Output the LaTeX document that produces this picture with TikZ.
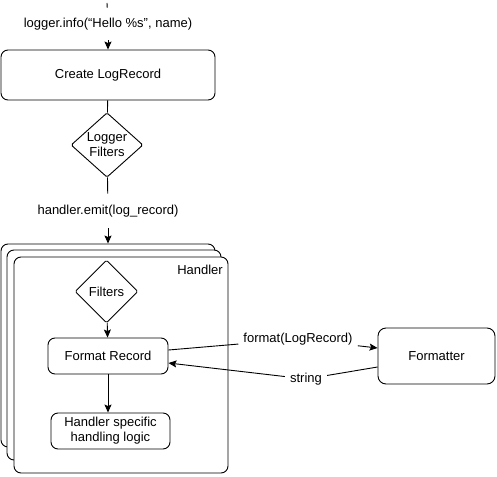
\documentclass[tikz,border=0pt]{standalone}
\usepackage{fontspec}
\setmainfont{Liberation Sans}
\usetikzlibrary{shapes.geometric,arrows.meta}
\begin{document}
\begin{tikzpicture}[x=1pt,y=1pt,
  every node/.style={font=\fontsize{13}{15}\selectfont},
  box/.style={draw,line width=0.9pt,rounded corners=7pt,fill=white,inner sep=0pt,align=center},
  dia/.style={draw,line width=0.9pt,shape=diamond,inner sep=0pt,align=center,rounded corners=1.5pt,fill=white},
  lbl/.style={inner xsep=4pt,inner ysep=2pt},
  conn/.style={line width=0.9pt},
  arr/.style={line width=0.9pt,-{Stealth[length=8pt,width=7pt,inset=1.5pt]}}
]
\useasboundingbox (0,0) rectangle (497,-476);
% top flow
\coordinate (top) at (107,-3);
\node[lbl,inner ysep=10pt] (lab0) at (108,-24) {logger.info(“Hello \%s”, name)};
\node[box,minimum width=214pt,minimum height=50pt] (clr) at (108,-75) {Create LogRecord};
\node[dia,minimum width=72pt,minimum height=64pt] (lf) at (107,-145) {Logger\\Filters};
\node[lbl,inner ysep=11pt] (lab1) at (108,-211) {handler.emit(log\_record)};
% handler stack
\node[box,minimum width=214pt,minimum height=203pt] (h1) at (108,-345.5) {};
\node[box,minimum width=214pt,minimum height=210pt] (h2) at (114,-355) {};
\node[box,minimum width=214pt,minimum height=216pt] (h3) at (121,-365) {};
\node[anchor=east,inner sep=0pt] (hl) at (223,-270) {Handler};
\node[dia,minimum width=63pt,minimum height=63pt] (fil) at (106.5,-291.5) {Filters};
\node[box,minimum width=120pt,minimum height=36pt] (fr) at (108,-356) {Format Record};
\node[box,minimum width=119pt,minimum height=36pt] (hs) at (110.5,-431) {Handler specific\\handling logic};
\node[box,rounded corners=8pt,minimum width=117pt,minimum height=56pt] (fmt) at (436.5,-356) {Formatter};
\node[lbl,inner xsep=5pt] (lab2) at (298,-339) {format(LogRecord)};
\node[lbl,inner xsep=5pt] (lab3) at (306,-379) {string};
% connectors
\draw[conn] (top) -- (lab0);
\draw[arr] (lab0) -- (clr);
\draw[conn] (clr) -- (lf);
\draw[conn] (lf) -- (lab1);
\draw[arr] (lab1) -- (h1.north -| lab1);
\draw[arr] (fil) -- (fr);
\draw[arr] (fr.south) -- (fr.south |- hs.north);
\draw[conn] ([yshift=6pt]fr.east) -- (lab2);
\draw[arr] (lab2) -- ([yshift=8pt]fmt.west);
\draw[conn] ([yshift=-11pt]fmt.west) -- (lab3);
\draw[arr] (lab3) -- ([yshift=-7pt]fr.east);
\end{tikzpicture}
\end{document}
